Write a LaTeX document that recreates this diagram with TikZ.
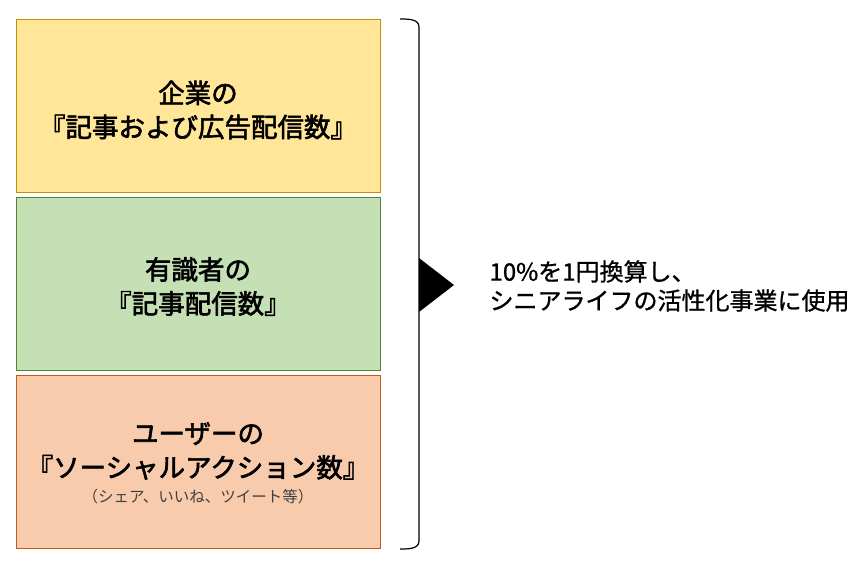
\documentclass[tikz,border=0pt]{standalone}
\usepackage{fontspec}
\setmainfont{Noto Sans CJK JP}
\newfontfamily\boxfont{Noto Sans CJK JP}[FakeBold=2.2]
\newfontfamily\resultfont{Noto Sans CJK JP}[FakeBold=1]
\definecolor{kigyo}{HTML}{FFE699}
\definecolor{kigyoline}{HTML}{BF9000}
\definecolor{yushiki}{HTML}{C5E0B4}
\definecolor{yushikiline}{HTML}{548235}
\definecolor{user}{HTML}{F8CBAD}
\definecolor{userline}{HTML}{C55A11}
\definecolor{note}{HTML}{404040}

\begin{document}
\begin{tikzpicture}[x=1pt,y=-1pt,
	box/.style={draw,line width=0.8pt,minimum width=364pt,minimum height=173pt,inner sep=0pt},
	boxtext/.style={font=\boxfont\fontsize{26.5}{34}\selectfont,align=center},
	notetext/.style={font=\fontsize{15.5}{18}\selectfont,text=note}]
	\useasboundingbox (0,0) rectangle (866,568);
	\node[box,fill=kigyo,draw=kigyoline] (kigyo) at (198,105.5){};
	\node[box,fill=yushiki,draw=yushikiline] (yushiki) at (198,284){};
	\node[box,fill=user,draw=userline] (user) at (198,462){};
	\node[boxtext] (kigyotext) at (198,110){企業の\\『記事および広告配信数』};
	\node[boxtext] (yushikitext) at (198,286.5){有識者の\\『記事配信数』};
	\node[boxtext] (usertext) at (198,451){ユーザーの\\『ソーシャルアクション数』};
	\node[notetext] (usernote) at (198,497){（シェア、いいね、ツイート等）};
	% bracket and triangle
	\draw[line width=1.2pt] (400,19) to[out=0,in=90] (419,27) -- (419,541) to[out=-90,in=0] (400,549);
	\fill (419,258) -- (454,285) -- (419,312) -- cycle;
	\node[anchor=west,font=\resultfont\fontsize{24}{29}\selectfont,align=left] (result) at (486,286){10\%を1円換算し、\\シニアライフの活性化事業に使用};
\end{tikzpicture}
\end{document}
